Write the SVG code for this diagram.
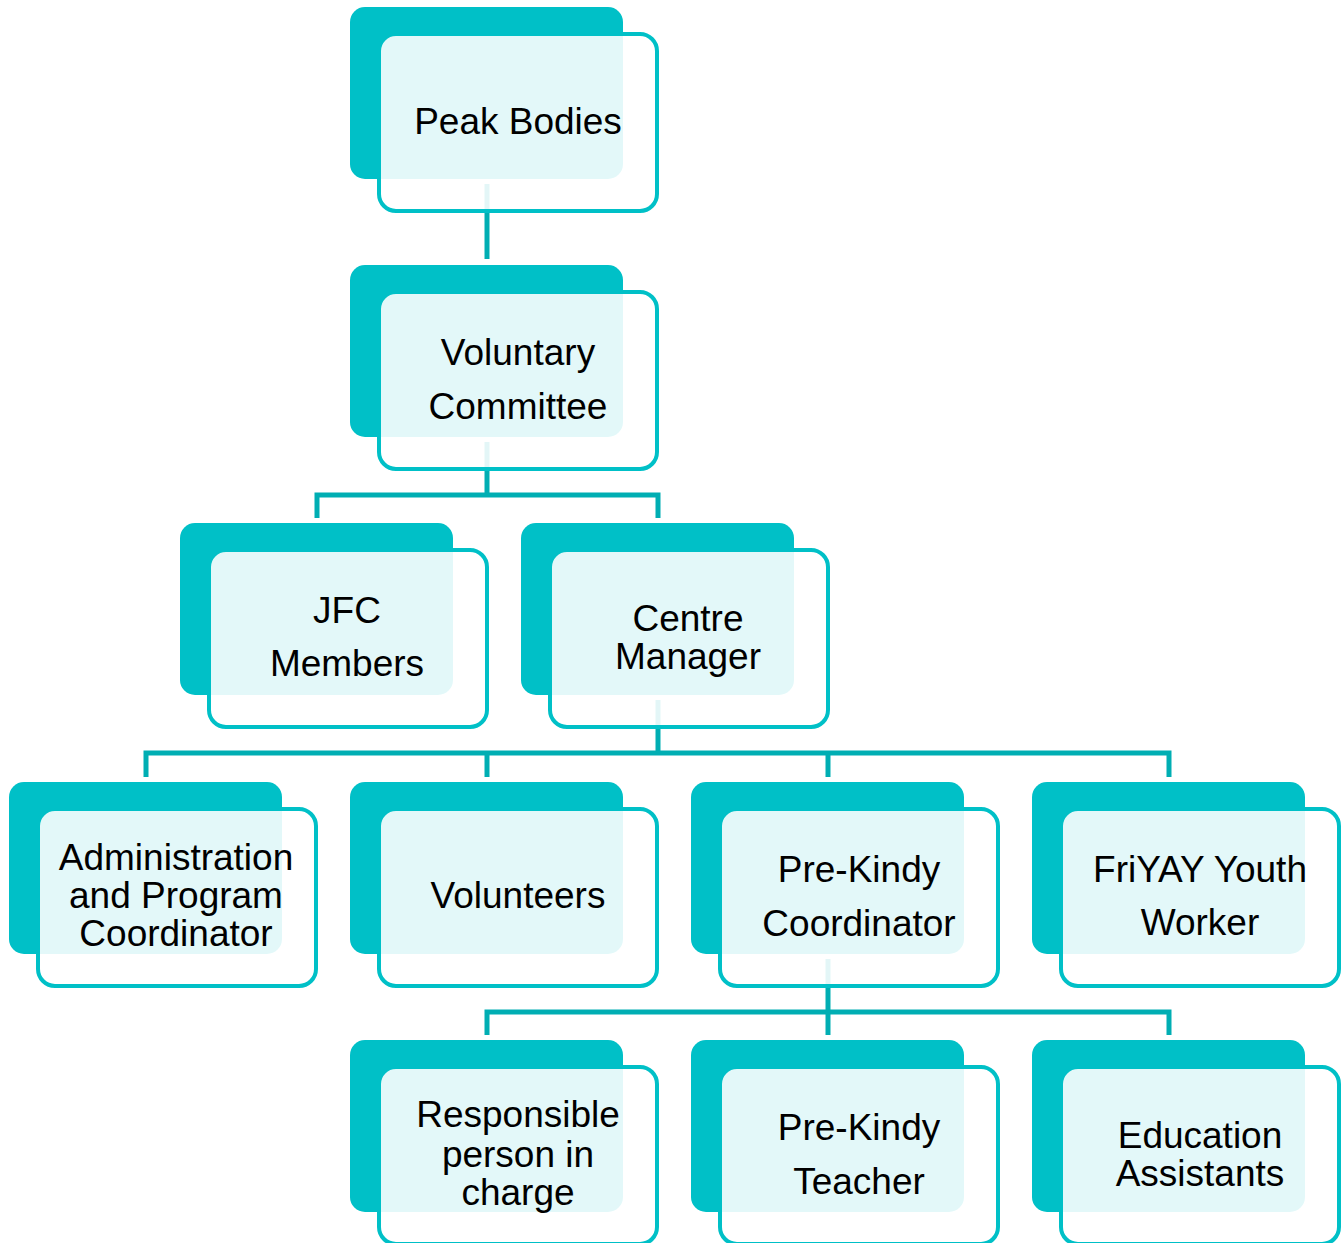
<svg xmlns="http://www.w3.org/2000/svg" width="1343" height="1243" viewBox="0 0 1343 1243">
<style>
.back{fill:#00C0C7;}
.front{fill:#FFFFFF;fill-opacity:0.89;stroke:#00C0C7;stroke-width:4;}
.conn{fill:none;stroke:#00AEB3;stroke-width:5;}
.lbl{font-family:"Liberation Sans",Arial,sans-serif;font-size:37px;fill:#000;text-anchor:middle;}
</style>
<rect width="1343" height="1243" fill="#FFFFFF"/>
<g id="connectors">
<path class="conn" d="M487,184 V259"/>
<path class="conn" d="M487,442 V495"/>
<path class="conn" d="M317,518 V495 H658 V518"/>
<path class="conn" d="M658,700 V753"/>
<path class="conn" d="M146,777 V753 H1169 V777"/>
<path class="conn" d="M487,753 V777"/>
<path class="conn" d="M828,753 V777"/>
<path class="conn" d="M828,959 V1012"/>
<path class="conn" d="M487,1035 V1012 H1169 V1035"/>
<path class="conn" d="M828,1012 V1035"/>
</g>
<g id="node-peak-bodies">
<rect class="back" x="350" y="7" width="273" height="172" rx="15"/>
<rect class="front" x="379" y="34" width="278" height="177" rx="17"/>
<text class="lbl" x="518" y="134">Peak Bodies</text>
</g>
<g id="node-voluntary-committee">
<rect class="back" x="350" y="265" width="273" height="172" rx="15"/>
<rect class="front" x="379" y="292" width="278" height="177" rx="17"/>
<text class="lbl" x="518" y="365">Voluntary</text>
<text class="lbl" x="518" y="419">Committee</text>
</g>
<g id="node-jfc-members">
<rect class="back" x="180" y="523" width="273" height="172" rx="15"/>
<rect class="front" x="209" y="550" width="278" height="177" rx="17"/>
<text class="lbl" x="347" y="623">JFC</text>
<text class="lbl" x="347" y="676">Members</text>
</g>
<g id="node-centre-manager">
<rect class="back" x="521" y="523" width="273" height="172" rx="15"/>
<rect class="front" x="550" y="550" width="278" height="177" rx="17"/>
<text class="lbl" x="688" y="631">Centre</text>
<text class="lbl" x="688" y="669">Manager</text>
</g>
<g id="node-admin-program-coordinator">
<rect class="back" x="9" y="782" width="273" height="172" rx="15"/>
<rect class="front" x="38" y="809" width="278" height="177" rx="17"/>
<text class="lbl" x="176" y="870">Administration</text>
<text class="lbl" x="176" y="908">and Program</text>
<text class="lbl" x="176" y="946">Coordinator</text>
</g>
<g id="node-volunteers">
<rect class="back" x="350" y="782" width="273" height="172" rx="15"/>
<rect class="front" x="379" y="809" width="278" height="177" rx="17"/>
<text class="lbl" x="518" y="908">Volunteers</text>
</g>
<g id="node-pre-kindy-coordinator">
<rect class="back" x="691" y="782" width="273" height="172" rx="15"/>
<rect class="front" x="720" y="809" width="278" height="177" rx="17"/>
<text class="lbl" x="859" y="882">Pre-Kindy</text>
<text class="lbl" x="859" y="936">Coordinator</text>
</g>
<g id="node-friyay-youth-worker">
<rect class="back" x="1032" y="782" width="273" height="172" rx="15"/>
<rect class="front" x="1061" y="809" width="278" height="177" rx="17"/>
<text class="lbl" x="1200" y="882">FriYAY Youth</text>
<text class="lbl" x="1200" y="935">Worker</text>
</g>
<g id="node-responsible-person">
<rect class="back" x="350" y="1040" width="273" height="172" rx="15"/>
<rect class="front" x="379" y="1067" width="278" height="177" rx="17"/>
<text class="lbl" x="518" y="1127">Responsible</text>
<text class="lbl" x="518" y="1167">person in</text>
<text class="lbl" x="518" y="1205">charge</text>
</g>
<g id="node-pre-kindy-teacher">
<rect class="back" x="691" y="1040" width="273" height="172" rx="15"/>
<rect class="front" x="720" y="1067" width="278" height="177" rx="17"/>
<text class="lbl" x="859" y="1140">Pre-Kindy</text>
<text class="lbl" x="859" y="1194">Teacher</text>
</g>
<g id="node-education-assistants">
<rect class="back" x="1032" y="1040" width="273" height="172" rx="15"/>
<rect class="front" x="1061" y="1067" width="278" height="177" rx="17"/>
<text class="lbl" x="1200" y="1148">Education</text>
<text class="lbl" x="1200" y="1186">Assistants</text>
</g>
</svg>
